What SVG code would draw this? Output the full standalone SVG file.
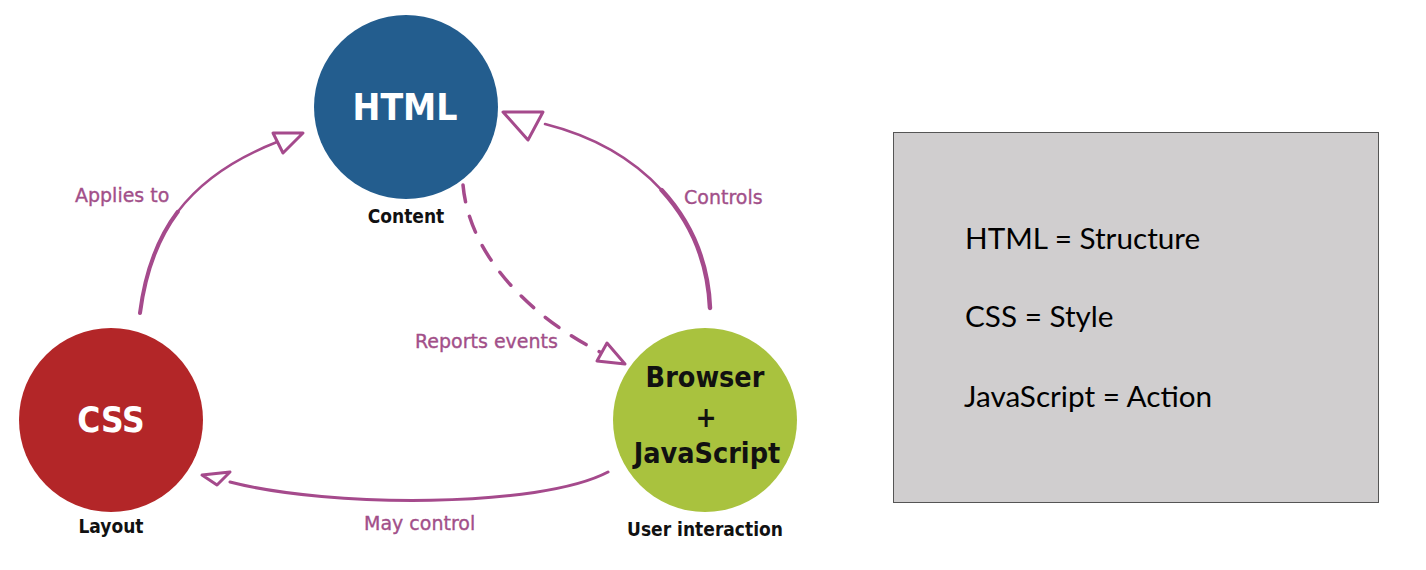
<svg xmlns="http://www.w3.org/2000/svg" width="1426" height="570" viewBox="0 0 1426 570">
  <style>
    .node-title { font-family: "DejaVu Sans Condensed", "DejaVu Sans", sans-serif; font-weight: bold; text-anchor: middle; }
    .sub { font-family: "DejaVu Sans Condensed", "DejaVu Sans", sans-serif; font-weight: bold; font-size: 19px; fill: #111; text-anchor: middle; }
    .lbl { font-family: "DejaVu Sans", sans-serif; font-size: 19px; fill: #a24f89; stroke: #a24f89; stroke-width: 0.35; }
    .edge { fill: none; stroke: #a54a8c; stroke-linecap: round; }
    .head { fill: none; stroke: #a54a8c; stroke-width: 3; stroke-linejoin: round; }
    .box-text { font-family: "Lato", "Liberation Sans", sans-serif; font-size: 29.7px; fill: #000; }
  </style>
  <rect width="1426" height="570" fill="#ffffff"/>

  <g id="connectors">
    <!-- Applies to: CSS -> HTML -->
    <path class="edge" d="M140,313 C150,235 185,178 277,142" stroke-width="2.5"/>
    <path class="edge" d="M140,313 C145,274 156.25,240.25 177.75,211.75" stroke-width="4"/>
    <polygon class="head" points="273,133 303,133 283,153"/>
    <!-- Controls: Browser -> HTML -->
    <path class="edge" d="M710,308 C706,215 640,148 545,124" stroke-width="2.5"/>
    <path class="edge" d="M710,308 C708,261.5 690.5,221.5 661.6,190.1" stroke-width="4.5"/>
    <polygon class="head" points="503,112 543,112 528,140"/>
    <!-- Reports events: HTML -> Browser (dashed) -->
    <path class="edge" d="M463,185 C470,262 540,322 600,352" stroke-width="3.5" stroke-dasharray="17 15" stroke-linecap="butt"/>
    <polygon class="head" points="607,343 597,361 625,364"/>
    <!-- May control: Browser -> CSS -->
    <path class="edge" d="M608,472 C540,508 330,508 230,482" stroke-width="3"/>
    <polygon class="head" points="202,475 230,472 217,485"/>
  </g>

  <g id="node-html">
    <circle cx="406" cy="107" r="92" fill="#235d8e"/>
    <text class="node-title" x="405" y="120" font-size="37" fill="#ffffff">HTML</text>
    <text class="sub" x="406" y="223">Content</text>
  </g>

  <g id="node-css">
    <circle cx="111" cy="420" r="92" fill="#b32628"/>
    <text class="node-title" x="111" y="432" font-size="35" fill="#ffffff">CSS</text>
    <text class="sub" x="111" y="533">Layout</text>
  </g>

  <g id="node-browser">
    <circle cx="705" cy="420" r="92" fill="#a9c23e"/>
    <text class="node-title" x="705" y="387" font-size="28.5" fill="#111">Browser</text>
    <text class="node-title" x="706" y="427" font-size="28" fill="#111">+</text>
    <text class="node-title" x="707" y="463" font-size="28.5" fill="#111">JavaScript</text>
    <text class="sub" x="705" y="536">User interaction</text>
  </g>

  <g id="labels">
    <text class="lbl" x="75" y="202">Applies to</text>
    <text class="lbl" x="684" y="204">Controls</text>
    <text class="lbl" x="415" y="348">Reports events</text>
    <text class="lbl" x="364" y="530">May control</text>
  </g>

  <g id="legend-box">
    <rect x="893.5" y="132.5" width="485" height="370" fill="#d0cecf" stroke="#555555" stroke-width="1"/>
    <text class="box-text" x="965" y="249">HTML = Structure</text>
    <text class="box-text" x="965" y="327">CSS = Style</text>
    <text class="box-text" x="964" y="407">JavaScript = Action</text>
  </g>
</svg>
